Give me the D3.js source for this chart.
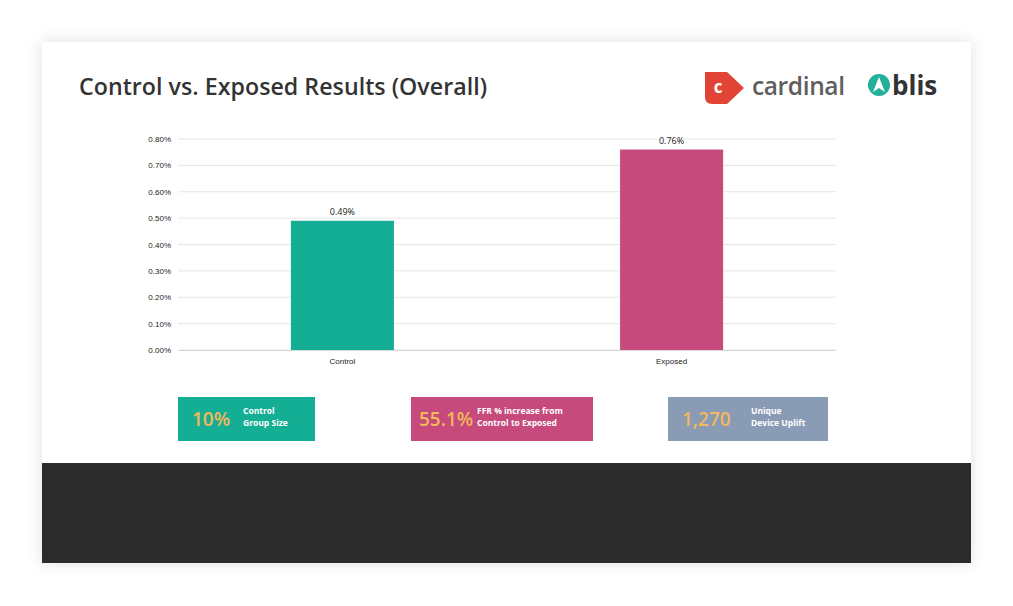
<!DOCTYPE html>
<html><head><meta charset="utf-8">
<script src="https://d3js.org/d3.v7.min.js"></script>
<style>body{margin:0;background:#fff;font-family:"Open Sans",sans-serif}</style>
</head><body><svg id="c" width="1013" height="606"></svg>
<script>
const categories=["Control","Exposed"];
const values=[0.49,0.76];
const barColors=["#14ae95","#c64a7b"];
const yTicks=[0,0.1,0.2,0.3,0.4,0.5,0.6,0.7,0.8];
const statValues=["10%","55.1%","1,270"];
const statLabels=[["Control","Group Size"],["FFR % increase from","Control to Exposed"],["Unique","Device Uplift"]];
const statColors=["#14ae95","#c64a7b","#8a9cb5"];

const svg=d3.select("#c");
const defs=svg.append("defs");
const f=defs.append("filter").attr("id","sh").attr("x","-10%").attr("y","-10%").attr("width","120%").attr("height","120%");
f.append("feDropShadow").attr("dx",0).attr("dy",0).attr("stdDeviation",8).attr("flood-color","#000").attr("flood-opacity",0.12);
svg.append("rect").attr("x",42).attr("y",42).attr("width",929).attr("height",521).attr("fill","#fff").attr("filter","url(#sh)");
svg.append("rect").attr("x",42).attr("y",463).attr("width",929).attr("height",100).attr("fill","#2b2b2b");

svg.append("text").attr("x",79).attr("y",95).attr("font-family","'Open Sans', sans-serif").attr("font-weight",600).attr("font-size",23.2).attr("fill","#333").attr("textLength",408).text("Control vs. Exposed Results (Overall)");

// logos
const lg=svg.append("g");
lg.append("path").attr("d","M705,72 L727,72 L744,88 L727,104 L712,104 Q705,104 705,97 Z").attr("fill","#e14434");
lg.append("text").attr("x",718).attr("y",93).attr("text-anchor","middle").attr("font-size",17).attr("font-weight",700).attr("fill","#fff").text("c");
lg.append("text").attr("x",752).attr("y",95).attr("font-size",24.5).attr("font-weight",600).attr("fill","#5e5e5e").attr("font-family","'Open Sans',sans-serif").attr("textLength",93).text("cardinal");
lg.append("circle").attr("cx",879).attr("cy",85).attr("r",11).attr("fill","#22b09a");
lg.append("path").attr("d","M873,92 L879,77 L885,92 L879,88 Z").attr("fill","#fff");
lg.append("text").attr("x",892).attr("y",95).attr("font-size",26).attr("font-weight",700).attr("fill","#333").text("blis");

const x=d3.scaleBand().domain(categories).range([178,836]).paddingInner(0.687).paddingOuter(0.343);
const y=d3.scaleLinear().domain([0,0.8]).range([350,139]);
const g=svg.append("g");
g.selectAll("line.grid").data(yTicks).join("line").attr("x1",178).attr("x2",836).attr("y1",d=>y(d)).attr("y2",d=>y(d)).attr("stroke","#e6e6e6");
const ya=g.append("g").attr("transform","translate(178,0)").call(d3.axisLeft(y).tickValues(yTicks).tickFormat(d=>d.toFixed(2)+"%").tickSize(0).tickPadding(7));
ya.select(".domain").remove();
ya.selectAll("text").attr("font-size",8).attr("fill","#222");
const xa=g.append("g").attr("transform","translate(0,350)").call(d3.axisBottom(x).tickSize(0).tickPadding(8));
xa.select(".domain").attr("stroke","#d9d9d9");
xa.selectAll("text").attr("font-size",8).attr("fill","#222");
g.selectAll("rect.bar").data(values).join("rect").attr("x",(d,i)=>x(categories[i])).attr("width",x.bandwidth()).attr("y",d=>y(d)).attr("height",d=>350-y(d)).attr("fill",(d,i)=>barColors[i]);
g.selectAll("text.lbl").data(values).join("text").attr("x",(d,i)=>x(categories[i])+x.bandwidth()/2).attr("y",d=>y(d)-6).attr("text-anchor","middle").attr("font-size",9).attr("fill","#222").text(d=>d.toFixed(2)+"%");

const boxes=[{x:178,w:137},{x:411,w:182},{x:668,w:160}];
boxes.forEach((b,i)=>{
  svg.append("rect").attr("x",b.x).attr("y",397).attr("width",b.w).attr("height",44).attr("fill",statColors[i]);
  const tx=b.x+(i==2?14:i==0?14:8);
  svg.append("text").attr("x",tx).attr("y",426).attr("font-size",19).attr("font-weight",600).attr("fill","#f2b85a").text(statValues[i]);
  const lx=[243,477,751][i];
  statLabels[i].forEach((t,j)=>svg.append("text").attr("x",lx).attr("y",414+j*12).attr("font-size",8.5).attr("font-weight",700).attr("fill","#fff").text(t));
});
</script></body></html>
